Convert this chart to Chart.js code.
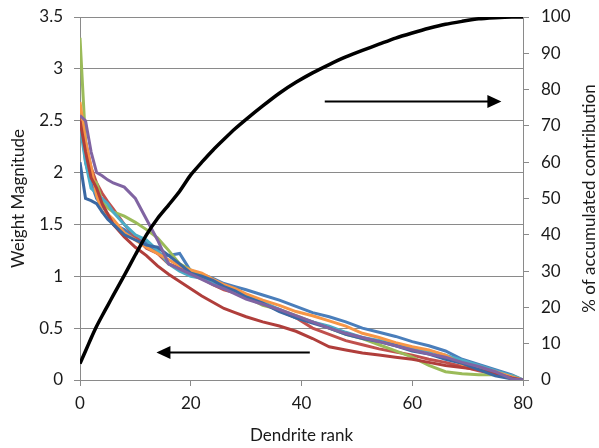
<!DOCTYPE html>
<html><head><meta charset="utf-8">
<script src="https://cdn.jsdelivr.net/npm/chart.js@4.4.1/dist/chart.umd.min.js"></script>
<style>html,body{margin:0;padding:0;background:#fff;}canvas{display:block;}</style>
</head><body>
<canvas id="c" width="599" height="448"></canvas>
<script>
// ---- data ----
const ranks = [0,1,2,3,4,5,6,8,10,12,14,16,18,20,22,24,26,28,30,33,36,39,42,45,48,51,54,57,60,63,66,69,72,75,78,80];
const seriesBlue   = [2.62,2.10,1.90,1.75,1.68,1.60,1.50,1.45,1.37,1.32,1.22,1.20,1.22,1.05,1.02,0.98,0.93,0.90,0.87,0.82,0.77,0.71,0.65,0.61,0.56,0.50,0.46,0.42,0.37,0.33,0.28,0.20,0.15,0.10,0.05,0];
const seriesRed    = [2.55,2.30,2.05,1.90,1.80,1.72,1.65,1.50,1.38,1.27,1.22,1.12,1.08,1.03,0.98,0.92,0.87,0.84,0.80,0.74,0.67,0.60,0.50,0.44,0.38,0.34,0.30,0.27,0.24,0.20,0.17,0.13,0.09,0.06,0.02,0];
const seriesGreen  = [3.30,2.30,1.95,1.90,1.72,1.66,1.62,1.58,1.52,1.45,1.37,1.25,1.12,1.06,1.00,0.95,0.90,0.85,0.80,0.72,0.68,0.62,0.56,0.50,0.44,0.40,0.34,0.28,0.22,0.14,0.08,0.06,0.05,0.05,0.04,0];
const seriesPurple = [2.55,2.50,2.20,2.00,1.97,1.93,1.90,1.86,1.75,1.55,1.35,1.12,1.07,1.02,0.97,0.92,0.88,0.83,0.78,0.73,0.68,0.62,0.56,0.50,0.45,0.41,0.37,0.33,0.29,0.25,0.22,0.17,0.13,0.08,0.01,0];
const seriesCyan   = [2.45,2.10,1.85,1.80,1.75,1.70,1.62,1.50,1.40,1.35,1.25,1.12,1.05,1.00,0.98,0.93,0.90,0.86,0.82,0.75,0.68,0.60,0.56,0.52,0.46,0.41,0.38,0.35,0.31,0.28,0.24,0.19,0.14,0.09,0.04,0];
const seriesOrange = [2.68,2.30,2.05,1.78,1.62,1.60,1.55,1.42,1.35,1.28,1.22,1.16,1.10,1.06,1.03,0.97,0.92,0.88,0.83,0.77,0.72,0.66,0.62,0.57,0.52,0.45,0.41,0.36,0.32,0.29,0.24,0.15,0.12,0.08,0.03,0];
const seriesDarkRed= [2.50,2.20,1.95,1.85,1.70,1.60,1.50,1.38,1.28,1.20,1.10,1.02,0.95,0.88,0.81,0.75,0.69,0.65,0.61,0.56,0.52,0.47,0.40,0.32,0.29,0.26,0.24,0.22,0.20,0.17,0.14,0.12,0.10,0.06,0.02,0];
const seriesDarkBlue=[2.10,1.75,1.73,1.70,1.62,1.55,1.50,1.40,1.35,1.30,1.28,1.20,1.12,1.03,1.00,0.96,0.90,0.86,0.80,0.74,0.66,0.60,0.55,0.50,0.44,0.40,0.37,0.33,0.28,0.25,0.20,0.16,0.10,0.04,0.01,0];
const cumulativePct= [4.5,8,11.5,14.8,17.7,20.5,23.3,28.8,34.5,40,44.5,48.2,52,56.5,60,63.3,66.3,69.2,71.8,75.5,79,82,84.6,86.9,89,90.8,92.5,94.2,95.6,96.9,98,98.8,99.5,99.8,100,100];
const xTitle = 'Dendrite rank';
const yLeftTitle = 'Weight Magnitude';
const yRightTitle = '% of accumulated contribution';

const FONT = 'Lato, "Open Sans", sans-serif';
const FS = 17;
const TXT = '#1a1a1a';
const GRID = '#8a8a8a';

const pts = v => ranks.map((r,i)=>({x:r,y:v[i]}));
const colored = [
  {v:seriesBlue, c:'#4A7EBB'},
  {v:seriesRed, c:'#C0504D'},
  {v:seriesGreen, c:'#9BBB59'},
  {v:seriesCyan, c:'#4BACC6'},
  {v:seriesOrange, c:'#F79646'},
  {v:seriesDarkRed, c:'#B03E3B'},
  {v:seriesDarkBlue, c:'#3A68A3'},
  {v:seriesPurple, c:'#8064A2'}
];
const datasets = [{
  data: pts(cumulativePct), yAxisID:'y2', borderColor:'#000', borderWidth:3.5,
  pointRadius:0, tension:0.2, fill:false
}];
colored.slice().reverse().forEach(s=>datasets.push({
  data: pts(s.v), yAxisID:'y', borderColor:s.c, borderWidth:3, pointRadius:0, tension:0, fill:false
}));

const overlay = {
  id:'overlay',
  afterDatasetsDraw(chart){
    const {ctx, scales:{x,y}} = chart;
    ctx.save();
    const arrow = (x0,x1,yv)=>{
      const px0=x.getPixelForValue(x0), px1=x.getPixelForValue(x1), py=Math.round(y.getPixelForValue(yv))+0.5;
      const dir = px1>px0?1:-1;
      ctx.strokeStyle='#000'; ctx.lineWidth=2;
      ctx.beginPath(); ctx.moveTo(px0,py); ctx.lineTo(px1-dir*13,py); ctx.stroke();
      ctx.fillStyle='#000'; ctx.beginPath();
      ctx.moveTo(px1,py); ctx.lineTo(px1-dir*14,py-6.5); ctx.lineTo(px1-dir*14,py+6.5); ctx.closePath(); ctx.fill();
    };
    arrow(41.5,13.8,0.27);
    arrow(44.2,76.1,2.69);
    ctx.restore();
  },
  afterDraw(chart){
    const {ctx, chartArea} = chart;
    ctx.save();
    ctx.font = FS+'px '+FONT; ctx.fillStyle=TXT; ctx.textAlign='center'; ctx.textBaseline='middle';
    ctx.translate(590,(chartArea.top+chartArea.bottom)/2);
    ctx.rotate(-Math.PI/2);
    ctx.fillText(yRightTitle,0,0);
    ctx.restore();
  }
};

const fmt = v => String(v);
const noPadV = s => { s.paddingTop = 0; s.paddingBottom = 0; };

new Chart(document.getElementById('c'), {
  type:'line',
  data:{datasets},
  plugins:[overlay],
  options:{
    responsive:false, animation:false, devicePixelRatio:1,
    layout:{padding:{top:17,left:0,right:0,bottom:0}},
    plugins:{legend:{display:false}, tooltip:{enabled:false}},
    scales:{
      x:{type:'linear', min:0, max:80,
        ticks:{stepSize:20, color:TXT, font:{family:FONT,size:FS}, padding:7, maxRotation:0, callback:fmt},
        grid:{drawOnChartArea:false, drawTicks:true, tickLength:6, color:GRID},
        border:{color:GRID, width:1},
        title:{display:true, text:xTitle, color:TXT, font:{family:FONT,size:FS}, padding:{top:0,bottom:2}},
        afterFit(s){ s.height = 68; s.paddingLeft = 0; s.paddingRight = 0; }
      },
      y:{position:'left', min:0, max:3.5,
        ticks:{stepSize:0.5, color:TXT, font:{family:FONT,size:FS}, padding:11, callback:fmt},
        grid:{color:GRID, tickLength:6, drawTicks:true},
        border:{color:GRID, width:1},
        title:{display:true, text:yLeftTitle, color:TXT, font:{family:FONT,size:FS}, padding:{top:8,bottom:0}},
        afterFit(s){ s.width = 80; noPadV(s); }
      },
      y2:{position:'right', min:0, max:100,
        ticks:{stepSize:10, color:TXT, font:{family:FONT,size:FS}, padding:12, callback:fmt},
        grid:{drawOnChartArea:false, drawTicks:true, tickLength:6, color:GRID},
        border:{color:GRID, width:1},
        title:{display:false},
        afterFit(s){ s.width = 76; noPadV(s); }
      }
    }
  }
});
</script>
</body></html>
